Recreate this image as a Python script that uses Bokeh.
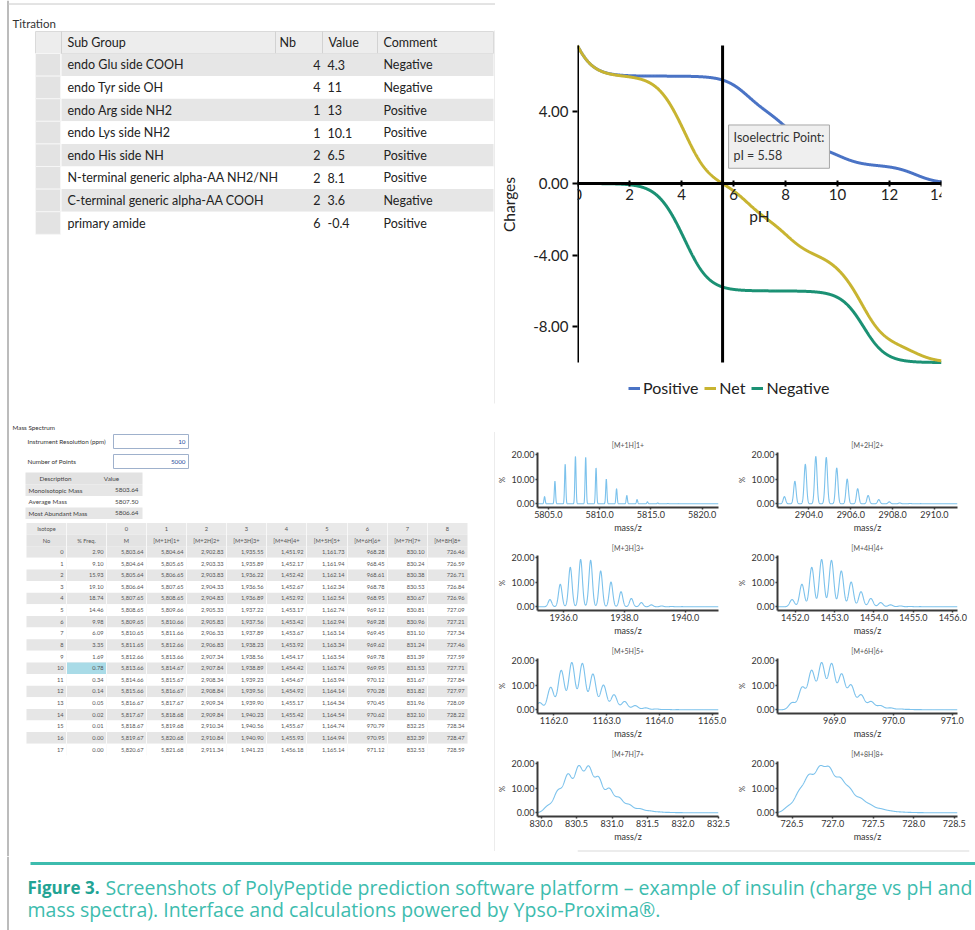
import numpy as np
from bokeh.plotting import figure
from bokeh.layouts import column, row
from bokeh.models import (Range1d, LinearAxis, FixedTicker, NumeralTickFormatter,
                          Label, Legend, LegendItem)
from bokeh.core.properties import value
from bokeh.embed import file_html
from bokeh.resources import INLINE

UI_FONT = "Lato"
CAPTION_FONT = "Open Sans"

# ---------------- data: titration ----------------
titration_headers = ["Sub Group", "Nb", "Value", "Comment"]
sub_groups = ["endo Glu side COOH", "endo Tyr side OH", "endo Arg side NH2", "endo Lys side NH2",
              "endo His side NH", "N-terminal generic alpha-AA NH2/NH",
              "C-terminal generic alpha-AA COOH", "primary amide"]
group_nb = [4, 4, 1, 1, 2, 2, 2, 6]
group_pka = [4.3, 11, 13, 10.1, 6.5, 8.1, 3.6, -0.4]
group_comment = ["Negative", "Negative", "Positive", "Positive", "Positive", "Positive",
                 "Negative", "Positive"]
isoelectric_point = 5.58
ph_ticks = [0, 2, 4, 6, 8, 10, 12, 14]
charge_ticks = [-8, -4, 0, 4]
series_names = ["Positive", "Net", "Negative"]

# ---------------- data: mass spectrum ----------------
instrument_resolution = "10"
number_of_points = "5000"
desc_labels = ["Monoisotopic Mass", "Average Mass", "Most Abundant Mass"]
desc_values = [5803.64, 5807.50, 5806.64]
isotope_no = list(range(18))
freq_pct = [2.90, 9.10, 15.93, 19.10, 18.74, 14.46, 9.98, 6.09, 3.35, 1.69, 0.78, 0.34,
            0.14, 0.05, 0.02, 0.01, 0.00, 0.00]
mass_M = [5803.64, 5804.64, 5805.64, 5806.64, 5807.65, 5808.65, 5809.65, 5810.65, 5811.65,
          5812.66, 5813.66, 5814.66, 5815.66, 5816.67, 5817.67, 5818.67, 5819.67, 5820.67]
mz_1h = [5804.64, 5805.65, 5806.65, 5807.65, 5808.65, 5809.66, 5810.66, 5811.66, 5812.66,
         5813.66, 5814.67, 5815.67, 5816.67, 5817.67, 5818.68, 5819.68, 5820.68, 5821.68]
mz_2h = [2902.83, 2903.33, 2903.83, 2904.33, 2904.83, 2905.33, 2905.83, 2906.33, 2906.83,
         2907.34, 2907.84, 2908.34, 2908.84, 2909.34, 2909.84, 2910.34, 2910.84, 2911.34]
mz_3h = [1935.55, 1935.89, 1936.22, 1936.56, 1936.89, 1937.22, 1937.56, 1937.89, 1938.23,
         1938.56, 1938.89, 1939.23, 1939.56, 1939.90, 1940.23, 1940.56, 1940.90, 1941.23]
mz_4h = [1451.92, 1452.17, 1452.42, 1452.67, 1452.92, 1453.17, 1453.42, 1453.67, 1453.92,
         1454.17, 1454.42, 1454.67, 1454.92, 1455.17, 1455.42, 1455.67, 1455.93, 1456.18]
mz_5h = [1161.73, 1161.94, 1162.14, 1162.34, 1162.54, 1162.74, 1162.94, 1163.14, 1163.34,
         1163.54, 1163.74, 1163.94, 1164.14, 1164.34, 1164.54, 1164.74, 1164.94, 1165.14]
mz_6h = [968.28, 968.45, 968.61, 968.78, 968.95, 969.12, 969.28, 969.45, 969.62,
         969.78, 969.95, 970.12, 970.28, 970.45, 970.62, 970.79, 970.95, 971.12]
mz_7h = [830.10, 830.24, 830.38, 830.53, 830.67, 830.81, 830.96, 831.10, 831.24,
         831.39, 831.53, 831.67, 831.82, 831.96, 832.10, 832.25, 832.39, 832.53]
mz_8h = [726.46, 726.59, 726.71, 726.84, 726.96, 727.09, 727.21, 727.34, 727.46,
         727.59, 727.71, 727.84, 727.97, 728.09, 728.22, 728.34, 728.47, 728.59]
charge_states = [1, 2, 3, 4, 5, 6, 7, 8]
spectrum_titles = [f"[M+{z}H]{z}+" for z in charge_states]
spectrum_x_ticks = [
    [5805.0, 5810.0, 5815.0, 5820.0],
    [2904.0, 2906.0, 2908.0, 2910.0],
    [1936.0, 1938.0, 1940.0],
    [1452.0, 1453.0, 1454.0, 1455.0, 1456.0],
    [1162.0, 1163.0, 1164.0, 1165.0],
    [969.0, 970.0, 971.0],
    [830.0, 830.5, 831.0, 831.5, 832.0, 832.5],
    [726.5, 727.0, 727.5, 728.0, 728.5],
]
spectrum_y_ticks = [0, 10, 20]
caption_bold = "Figure 3."
caption_line1 = "Screenshots of PolyPeptide prediction software platform \u2013 example of insulin (charge vs pH and"
caption_line2 = "mass spectra). Interface and calculations powered by Ypso-Proxima\u00ae."

# ---------------- styles / layout ----------------
BLUE, NET_C, NEG_C = "#4a73c5", "#c8b431", "#1b9174"
SPEC_BLUE = "#7cc2ec"
TEAL, TEAL_DARK = "#3dbcae", "#22a394"
PEAK_SIGMA = 0.058
SPEC_X_WINDOWS = [(5803.95, 5821.6), (2902.5, 2911.1), (1935.14, 1941.1), (1451.55, 1456.12),
                  (1161.69, 1165.12), (968.03, 971.09), (829.95, 832.5), (726.32, 728.54)]


def txt(p, xs, ys, texts, size, align="left", color="#222", style="normal", font=UI_FONT):
    p.text(x=xs, y=ys, text=texts, text_font=value(font), text_font_size=size,
           text_align=align, text_baseline="middle", text_color=color, text_font_style=style)


def blank_fig(w, h, xr, yr):
    p = figure(width=w, height=h, x_range=Range1d(*xr), y_range=Range1d(*yr),
               output_backend="svg", toolbar_location=None, min_border=0,
               x_axis_location=None, y_axis_location=None)
    p.xgrid.visible = False
    p.ygrid.visible = False
    p.outline_line_color = None
    p.background_fill_color = "white"
    p.border_fill_color = "white"
    return p


# ================= left panel (tables) =================
L = blank_fig(495, 856, (0, 495), (856, 0))
L.segment(x0=[7.5], y0=[0], x1=[7.5], y1=[856], line_color="#a6a6a6", line_width=1.5)
L.segment(x0=[7.5], y0=[3.5], x1=[495], y1=[3.5], line_color="#c8c8c8", line_width=1)
L.segment(x0=[494.5, 494.5], y0=[30, 431.5], x1=[494.5, 494.5], y1=[403, 850.5],
          line_color="#d9d9d9", line_width=1)

txt(L, [12], [23], ["Titration"], "11.5px", color="#333")
T_LEFT, T_RH, T_RIGHT = 35, 61, 493
T_COLS = [61, 275, 322, 377]
T_HEAD_TOP, T_HEAD_H, T_ROW_H = 31, 22, 22.6
L.quad(left=[T_LEFT], right=[T_RIGHT], top=[T_HEAD_TOP], bottom=[T_HEAD_TOP + T_HEAD_H],
       fill_color="#ededed", line_color="#dadada")
L.segment(x0=T_COLS, y0=[T_HEAD_TOP] * 4, x1=T_COLS, y1=[T_HEAD_TOP + T_HEAD_H] * 4,
          line_color="#d2d2d2")
n_t = len(sub_groups)
t_tops = [T_HEAD_TOP + T_HEAD_H + i * T_ROW_H for i in range(n_t)]
t_bots = [t + T_ROW_H for t in t_tops]
t_mid = [t + T_ROW_H / 2 for t in t_tops]
L.quad(left=T_RH, right=T_RIGHT, top=t_tops, bottom=t_bots,
       fill_color=["#e6e6e6" if i % 2 == 0 else "#ffffff" for i in range(n_t)], line_color=None)
L.quad(left=T_LEFT, right=T_RH - 1, top=t_tops, bottom=t_bots, fill_color="#e3e3e3",
       line_color="#f6f6f6")
txt(L, [67, 279, 328, 383], [T_HEAD_TOP + T_HEAD_H / 2] * 4, titration_headers, "12.5px")
txt(L, [67] * n_t, t_mid, sub_groups, "12.5px")
txt(L, [320] * n_t, t_mid, [str(n) for n in group_nb], "12.5px", align="right")
txt(L, [327] * n_t, t_mid, [f"{v:g}" for v in group_pka], "12.5px")
txt(L, [383] * n_t, t_mid, group_comment, "12.5px")

# mass spectrum block
SMALL = "6.3px"
txt(L, [12], [427], ["Mass Spectrum"], SMALL, color="#333")
txt(L, [27, 27], [441, 461], ["Instrument Resolution (ppm)", "Number of Points"], SMALL, color="#333")
L.quad(left=[113, 113], right=[188, 188], top=[434, 454], bottom=[448, 468],
       fill_color="white", line_color="#9fb1cc")
txt(L, [185, 185], [441, 461], [instrument_resolution, number_of_points], SMALL,
    align="right", color="#2b4f9e")

D_TOP, D_ROW = 472, 11.5
L.quad(left=[25], right=[142], top=[D_TOP], bottom=[D_TOP + 12], fill_color="#e2e2e2",
       line_color=None)
d_tops = [D_TOP + 12 + i * D_ROW for i in range(len(desc_labels))]
L.quad(left=25, right=142, top=d_tops, bottom=[t + D_ROW for t in d_tops],
       fill_color=["#e6e6e6" if i % 2 == 0 else "#ffffff" for i in range(len(desc_labels))],
       line_color=None)
txt(L, [55, 111], [D_TOP + 6] * 2, ["Description", "Value"], SMALL, align="center", color="#444")
txt(L, [28] * 3, [t + D_ROW / 2 for t in d_tops], desc_labels, SMALL, color="#444")
txt(L, [138] * 3, [t + D_ROW / 2 for t in d_tops], [f"{v:.2f}" for v in desc_values], SMALL,
    align="right", color="#444")

MT_EDGES = [26, 66, 106, 146, 186, 226, 266, 306, 347, 387, 427, 467]
MT_H1, MT_HH, MT_ROW = 522.5, 11.6, 11.62
mt_top = MT_H1 + 2 * MT_HH
L.quad(left=[MT_EDGES[0]] * 2, right=[MT_EDGES[-1]] * 2, top=[MT_H1, MT_H1 + MT_HH],
       bottom=[MT_H1 + MT_HH, mt_top], fill_color=["#e9e9e9", "#e3e3e3"], line_color=None)
L.segment(x0=MT_EDGES[1:-1], y0=[MT_H1] * 10, x1=MT_EDGES[1:-1], y1=[mt_top] * 10,
          line_color="#f8f8f8")
n_m = len(isotope_no)
m_tops = [mt_top + i * MT_ROW for i in range(n_m)]
m_mid = [t + MT_ROW / 2 for t in m_tops]
L.quad(left=MT_EDGES[0], right=MT_EDGES[-1], top=m_tops, bottom=[t + MT_ROW for t in m_tops],
       fill_color=["#e6e6e6" if i % 2 == 0 else "#ffffff" for i in range(n_m)], line_color=None)
hl = freq_pct.index(0.78)
L.quad(left=[MT_EDGES[1]], right=[MT_EDGES[2]], top=[m_tops[hl]], bottom=[m_tops[hl] + MT_ROW],
       fill_color="#a9dbe7", line_color=None)
L.segment(x0=MT_EDGES[1:-1], y0=[mt_top] * 10, x1=MT_EDGES[1:-1], y1=[m_tops[-1] + MT_ROW] * 10,
          line_color="#fafafa")
centers = [(a + b) / 2 for a, b in zip(MT_EDGES[:-1], MT_EDGES[1:])]
head1 = ["Isotope", ""] + [str(z) for z in [0] + charge_states]
head2 = ["No", "% Freq.", "M"] + spectrum_titles
MT_FS = "5.7px"
txt(L, centers, [MT_H1 + MT_HH / 2] * 11, head1, MT_FS, align="center", color="#555")
txt(L, centers, [MT_H1 + 1.5 * MT_HH] * 11, head2, MT_FS, align="center", color="#555")
mt_cols = [[str(n) for n in isotope_no], [f"{v:.2f}" for v in freq_pct]]
for arr in [mass_M, mz_1h, mz_2h, mz_3h, mz_4h, mz_5h, mz_6h, mz_7h, mz_8h]:
    mt_cols.append([f"{v:,.2f}" for v in arr])
for c, vals in enumerate(mt_cols):
    txt(L, [MT_EDGES[c + 1] - 3] * n_m, m_mid, vals, MT_FS, align="right", color="#555")

# ================= charge vs pH =================
ph = np.linspace(0, 14, 1401)
pos = np.zeros_like(ph)
neg = np.zeros_like(ph)
for n, pka, kind in zip(group_nb, group_pka, group_comment):
    if kind == "Positive":
        pos += n / (1 + 10 ** (ph - pka))
    else:
        neg -= n / (1 + 10 ** (pka - ph))
net = pos + neg
y_lo, y_hi = float(neg.min()), float(pos.max())

# frame extended above/below the data so the legend fits inside it
C = figure(width=452, height=424, x_range=Range1d(0, 14), y_range=Range1d(-12.4, 10.056),
           min_border_left=82, min_border_right=6, min_border_top=3, min_border_bottom=19,
           output_backend="svg", toolbar_location=None, x_axis_location=None)
C.grid.visible = False
C.outline_line_color = None
r_pos = C.line(ph, pos, line_color=BLUE, line_width=3)
r_neg = C.line(ph, neg, line_color=NEG_C, line_width=3)
r_net = C.line(ph, net, line_color=NET_C, line_width=3)
# y axis line and isoelectric line span the data extent
C.segment(x0=[0, isoelectric_point], y0=[y_lo, y_lo], x1=[0, isoelectric_point],
          y1=[y_hi, y_hi], line_color="black", line_width=3)

ya = C.yaxis[0]
ya.ticker = FixedTicker(ticks=charge_ticks)
ya.formatter = NumeralTickFormatter(format="0.00")
ya.axis_label = "Charges"
xa = LinearAxis(fixed_location=0, ticker=FixedTicker(ticks=ph_ticks), axis_label="pH")
C.add_layout(xa, "below")
for ax in (ya, xa):
    ax.axis_line_width = 3
    ax.axis_line_color = "black"
    ax.major_tick_line_width = 2
    ax.major_tick_line_color = "black"
    ax.minor_tick_line_color = None
    ax.major_label_text_font = UI_FONT
    ax.major_label_text_font_size = "15px"
    ax.major_label_text_color = "#222"
    ax.axis_label_text_font = UI_FONT
    ax.axis_label_text_font_size = "15.5px"
    ax.axis_label_text_font_style = "normal"
    ax.axis_label_text_color = "#222"
ya.axis_line_color = None
ya.major_tick_out, ya.major_tick_in = 5, 0
ya.major_label_standoff = 4
ya.axis_label_standoff = 12
xa.major_tick_out, xa.major_tick_in = 3, 3
xa.major_label_standoff = 2
xa.axis_label_standoff = 4

C.add_layout(Label(x=isoelectric_point, y=3.27, x_offset=6,
                   text=f"Isoelectric Point:\npI = {isoelectric_point:.2f}",
                   text_font=UI_FONT, text_font_size="12.5px", text_color="#333",
                   text_baseline="top", background_fill_color="#efefef",
                   border_line_color="#a8a8a8", padding=5, text_line_height=1.22))
legend = Legend(items=[LegendItem(label=series_names[0], renderers=[r_pos]),
                       LegendItem(label=series_names[1], renderers=[r_net]),
                       LegendItem(label=series_names[2], renderers=[r_neg])],
                orientation="horizontal", location=(51, 8), border_line_color=None,
                background_fill_alpha=0, label_text_font=UI_FONT, label_text_font_size="16px",
                label_text_color="#222", glyph_width=12, glyph_height=16, label_standoff=3,
                spacing=6, padding=0, margin=0)
C.add_layout(legend, "center")

# ================= spectra =================
spectra_mz = [mz_1h, mz_2h, mz_3h, mz_4h, mz_5h, mz_6h, mz_7h, mz_8h]


def spectrum_figure(k):
    left_col = (k % 2 == 0)
    xr = SPEC_X_WINDOWS[k]
    p = figure(width=240, height=103, x_range=Range1d(*xr),
               y_range=Range1d(-1.5, 20.7), min_border_left=38 if left_col else 35,
               min_border_right=17 if left_col else 18, min_border_top=20,
               min_border_bottom=24, title=spectrum_titles[k], output_backend="svg",
               toolbar_location=None)
    p.title.text_font = UI_FONT
    p.title.text_font_size = "7px"
    p.title.text_font_style = "normal"
    p.title.text_color = "#555"
    p.title.align = "center"
    p.title.standoff = 7
    p.grid.visible = False
    p.outline_line_color = None
    xs = np.linspace(xr[0], xr[1], 1600)
    prof = np.zeros_like(xs)
    for m, f in zip(spectra_mz[k], freq_pct):
        prof += f * np.exp(-0.5 * ((xs - m) / PEAK_SIGMA) ** 2)
    prof *= max(freq_pct) / prof.max()
    p.line(xs, prof, line_color=SPEC_BLUE, line_width=1.1)
    p.xaxis.ticker = FixedTicker(ticks=spectrum_x_ticks[k])
    p.xaxis.formatter = NumeralTickFormatter(format="0.0")
    p.yaxis.ticker = FixedTicker(ticks=spectrum_y_ticks)
    p.yaxis.formatter = NumeralTickFormatter(format="0.00")
    p.xaxis.axis_label = "mass/z"
    p.yaxis.axis_label = "%"
    for ax in (p.xaxis[0], p.yaxis[0]):
        ax.axis_line_width = 2
        ax.axis_line_color = "#3a3a3a"
        ax.major_tick_line_color = "#3a3a3a"
        ax.major_tick_line_width = 1.5
        ax.major_tick_out, ax.major_tick_in = 2, 0
        ax.minor_tick_line_color = None
        ax.major_label_text_font = UI_FONT
        ax.major_label_text_font_size = "9px"
        ax.major_label_text_color = "#333"
        ax.major_label_standoff = 1
        ax.axis_label_text_font = UI_FONT
        ax.axis_label_text_font_style = "normal"
        ax.axis_label_text_color = "#333"
        ax.axis_label_standoff = 1
    p.xaxis.axis_label_text_font_size = "9px"
    p.yaxis.axis_label_text_font_size = "7.5px"
    return p


spec = [spectrum_figure(k) for k in range(8)]

# thin strips above / below the spectra grid carrying the box's border lines
top_strip = blank_fig(480, 8, (495, 975), (432, 424))
top_strip.segment(x0=[495], y0=[431.5], x1=[975], y1=[431.5], line_color="#d9d9d9", line_width=1)
bot_strip = blank_fig(480, 12, (495, 975), (856, 844))
bot_strip.segment(x0=[495], y0=[850.5], x1=[975], y1=[850.5], line_color="#d9d9d9", line_width=1)

right_col = column(C, top_strip,
                   row(spec[0], spec[1]), row(spec[2], spec[3]),
                   row(spec[4], spec[5]), row(spec[6], spec[7]),
                   bot_strip)

# ================= caption =================
Cap = blank_fig(975, 74, (0, 975), (930, 856))
Cap.segment(x0=[7.5], y0=[856], x1=[7.5], y1=[930], line_color="#a6a6a6", line_width=1.5)
Cap.segment(x0=[30], y0=[863], x1=[975], y1=[863], line_color=TEAL, line_width=3)
txt(Cap, [27], [887], [caption_bold], "17px", color=TEAL_DARK, style="bold", font=CAPTION_FONT)
txt(Cap, [105], [887], [caption_line1], "19.5px", color=TEAL, font=CAPTION_FONT)
txt(Cap, [27], [909], [caption_line2], "19.5px", color=TEAL, font=CAPTION_FONT)

page = column(row(L, right_col), Cap)
open("out.html", "w").write(file_html(page, INLINE))
